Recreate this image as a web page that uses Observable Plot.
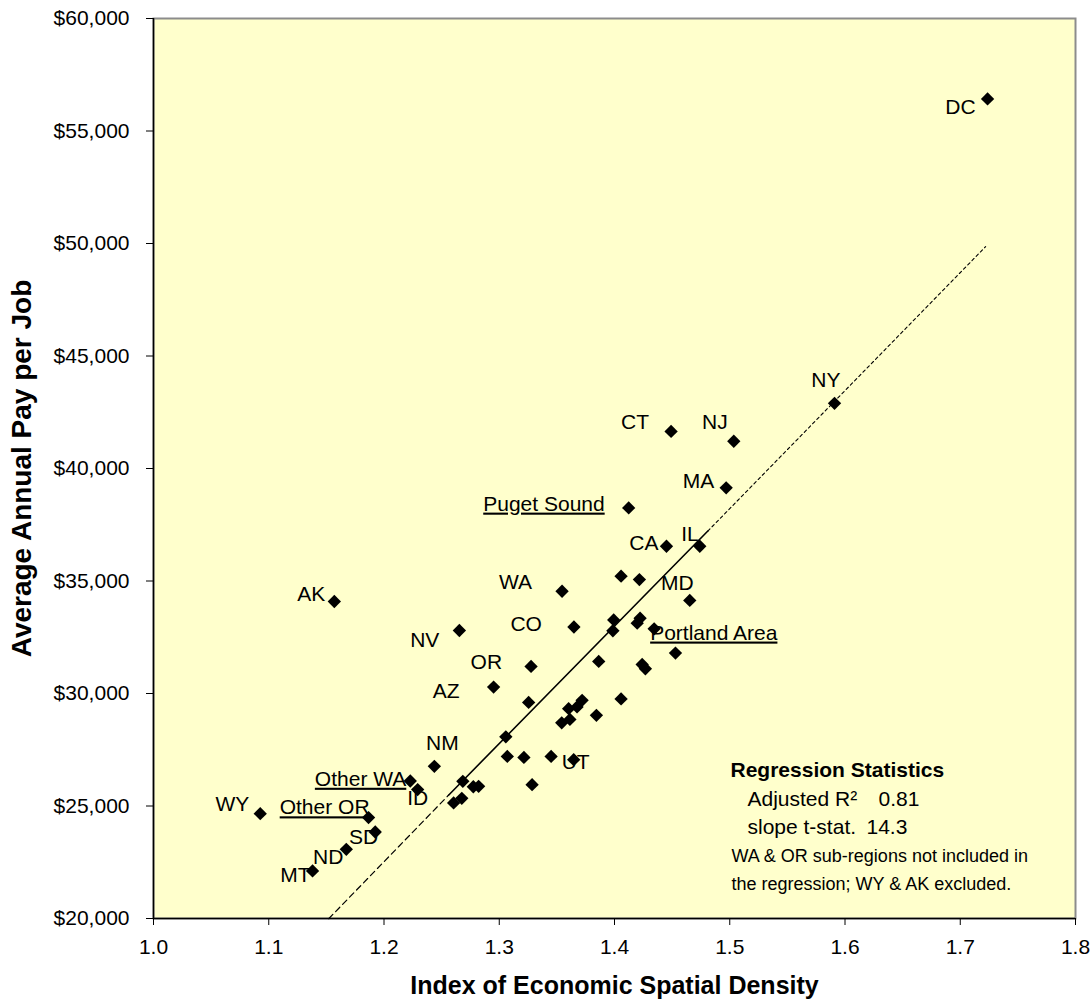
<!DOCTYPE html>
<html><head><meta charset="utf-8">
<script src="https://cdn.jsdelivr.net/npm/d3@7"></script>
<script src="https://cdn.jsdelivr.net/npm/@observablehq/plot@0.6"></script>
<style>
html,body{margin:0;padding:0;background:#fff;}
#chart{width:1091px;height:1002px;}
</style></head><body><div id="chart"></div>
<script>
// ---- data ----
const regionNames = ["DC","NY","CT","NJ","MA","Puget Sound","CA","IL","WA","AK","MD","NV","CO","Portland Area","OR","AZ","NM","Other WA","ID","WY","Other OR","SD","ND","MT","UT",
  "","","","","","","","","","","","","","","","","","","","","","","","","","","",""];
const densityIndex = [1.7237,1.5909,1.4491,1.5035,1.4969,1.4123,1.4451,1.4740,1.3545,1.1569,1.4653,1.2654,1.3648,1.4344,1.3276,1.2951,1.2437,1.2228,1.2292,1.0926,1.1866,1.1924,1.1673,1.1380,1.3646,
  1.4057,1.4216,1.3993,1.3986,1.4222,1.4197,1.3863,1.4529,1.4240,1.4268,1.4057,1.3719,1.3675,1.3602,1.3613,1.3542,1.3843,1.3255,1.3057,1.3070,1.3214,1.3450,1.3285,1.2684,1.2775,1.2821,1.2604,1.2675];
const annualPay = [56425,42895,41650,41210,39140,38250,36545,36545,34545,34090,34135,32800,32955,32875,31205,30285,26765,26110,25730,24660,24485,23845,23075,22115,27060,
  35215,35065,33270,32790,33345,33125,31425,31795,31290,31100,29760,29695,29405,29325,28850,28695,29030,29605,28075,27205,27160,27205,25950,26095,25855,25875,25135,25340];
const underlinedNames = ["Puget Sound","Portland Area","Other WA","Other OR"];
const trendX = [1.152, 1.256, 1.481, 1.722];
const trendY = [19990, 25480, 37220, 49860];
const xTicks = [1.0,1.1,1.2,1.3,1.4,1.5,1.6,1.7,1.8];
const yTicks = [20000,25000,30000,35000,40000,45000,50000,55000,60000];
const xTitle = "Index of Economic Spatial Density";
const yTitle = "Average Annual Pay per Job";
const statsTitle = "Regression Statistics";
const statsLabels = ["Adjusted R\u00B2","slope t-stat."];
const statsValues = ["0.81","14.3"];
const noteLines = ["WA & OR sub-regions not included in","the regression; WY & AK excluded."];

// ---- build ----
const points = regionNames.map((name,i)=>({name, x: densityIndex[i], y: annualPay[i]}));
const trend = trendX.map((x,i)=>({x, y: trendY[i]}));

// label placement (anchor, dx, dy) relative to each diamond
const place = {
 "DC":["end",-12,8], "NY":["end",6,-23], "CT":["end",-22,-9], "NJ":["end",-6,-19], "MA":["end",-12,-7],
 "Puget Sound":["end",-24,-4], "CA":["end",-8,-3], "IL":["end",-1,-12], "WA":["end",-30,-9],
 "AK":["end",-9,-7], "MD":["end",4,-17], "NV":["end",-20,10], "CO":["end",-32,-3],
 "Portland Area":["start",-4,4], "OR":["end",-29,-4], "AZ":["end",-34,4], "NM":["middle",8,-23],
 "Other WA":["end",-4,-2], "ID":["middle",0,9], "WY":["end",-11,-9], "Other OR":["end",1,-10],
 "SD":["end",3,5], "ND":["end",-3,8], "MT":["end",-2,4], "UT":["middle",2,3]
};
const labelMarks = points.filter(d=>d.name).map(d=>{
  const [a,dx,dy] = place[d.name] || ["end",-10,0];
  return Plot.text([d], {x:"x", y:"y", text:"name", textAnchor:a, dx, dy, fontSize:21, fill:"black"});
});
const note = (txt, dx, dy, size, weight) => Plot.text([txt], {frameAnchor:"bottom-right", textAnchor:"start", lineAnchor:"middle", dx, dy, fontSize:size, fontWeight:weight || "normal", fill:"black"});

const svg = Plot.plot({
  width: 1091, height: 1002,
  marginLeft: 153, marginRight: 16, marginTop: 18, marginBottom: 84,
  style: {fontFamily: "'Liberation Sans', Arial, sans-serif", fontSize: "21px", color: "black", background: "white"},
  x: {domain: [1.0, 1.8], ticks: xTicks, tickFormat: d3.format(".1f")},
  y: {domain: [20000, 60000], ticks: yTicks, tickFormat: d3.format("$,")},
  marks: [
    Plot.frame({fill: "#FFFFCC", stroke: "#8c8c8c", strokeWidth: 2}),
    Plot.ruleX([1.0], {stroke: "black", strokeWidth: 1.5}),
    Plot.ruleY([20000], {stroke: "black", strokeWidth: 1.5}),
    Plot.axisX({ticks: xTicks, tickFormat: d3.format(".1f"), tickSize: 7, tickPadding: 14, label: null, fontSize: 21}),
    Plot.axisY({ticks: yTicks, tickFormat: d3.format("$,"), tickSize: 7, tickPadding: 17, label: null, fontSize: 21}),
    Plot.line(trend.slice(0,2), {x:"x", y:"y", stroke:"black", strokeWidth:1.2, strokeDasharray:"6,4"}),
    Plot.line(trend.slice(1,3), {x:"x", y:"y", stroke:"black", strokeWidth:1.6}),
    Plot.line(trend.slice(2,4), {x:"x", y:"y", stroke:"black", strokeWidth:1.1, strokeDasharray:"3,3"}),
    Plot.dot(points, {x:"x", y:"y", symbol:"diamond2", r:6, fill:"black", stroke:"none"}),
    ...labelMarks,
    Plot.text([xTitle], {frameAnchor:"bottom", textAnchor:"middle", lineAnchor:"middle", dy: 67, fontSize: 25, fontWeight: "bold", fill:"black"}),
    Plot.text([yTitle], {frameAnchor:"left", textAnchor:"middle", lineAnchor:"middle", dx: -131, rotate: -90, fontSize: 28, fontWeight: "bold", fill:"black"}),
    note(statsTitle, -345, -148, 21, "bold"),
    note(statsLabels[0], -328, -119, 21),
    note(statsValues[0], -197, -119, 21),
    note(statsLabels[1], -328, -91, 21),
    note(statsValues[1], -209, -91, 21),
    note(noteLines[0], -344, -62, 18),
    note(noteLines[1], -344, -34, 18)
  ]
});
d3.select(svg).selectAll("text").filter(function(){ return underlinedNames.includes(this.textContent); })
  .attr("text-decoration", "underline");
document.getElementById("chart").appendChild(svg);
</script></body></html>
